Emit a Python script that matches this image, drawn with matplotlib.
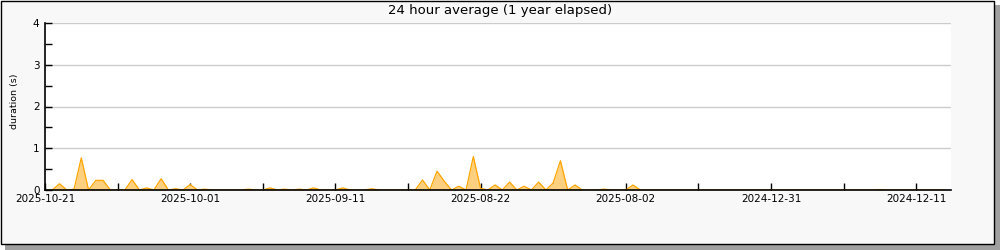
import numpy as np
import matplotlib
matplotlib.use("Agg")
import matplotlib.pyplot as plt
from matplotlib.patches import Rectangle
from matplotlib.ticker import MultipleLocator

# days ago (0 = newest, drawn at the left) and the 24h average duration in seconds
active_days = [2, 4, 5, 7, 8, 12, 14, 16, 18, 20, 22, 28, 31, 33, 35, 37, 41, 45,
               52, 54, 55, 57, 59, 60, 62, 64, 66, 68, 70, 71, 73, 77, 81, 115]
active_durations = [0.15, 0.02, 0.77, 0.23, 0.23, 0.25, 0.05, 0.27, 0.03, 0.13, 0.02,
                    0.02, 0.05, 0.02, 0.02, 0.05, 0.05, 0.03,
                    0.24, 0.45, 0.21, 0.09, 0.80, 0.04, 0.12, 0.19, 0.09, 0.19,
                    0.17, 0.70, 0.12, 0.02, 0.12, 0.01]
n_days = 125

tick_days = [0, 20, 40, 60, 80, 100, 120]
tick_labels = ["2025-10-21", "2025-10-01", "2025-09-11", "2025-08-22",
               "2025-08-02", "2024-12-31", "2024-12-11"]

days = np.arange(n_days)
durations = np.zeros(n_days)
durations[active_days] = active_durations

fig = plt.figure(figsize=(10, 2.5), dpi=100, facecolor="white")

# frame with drop shadow (behind the axes)
fig.patches.append(Rectangle((0.005, 0.0), 0.995, 0.98, transform=fig.transFigure,
                             facecolor="#a0a0a0", edgecolor="none", zorder=-2))
fig.patches.append(Rectangle((0.0005, 0.024), 0.9935, 0.974, transform=fig.transFigure,
                             facecolor="#f8f8f8", edgecolor="black", lw=1, zorder=-1))

ax = fig.add_axes([0.045, 0.24, 0.906, 0.668])
ax.set_facecolor("white")

ax.fill_between(days, durations, 0, color="#ffd080", lw=0, zorder=2)
ax.plot(days, durations, color="#ffa500", lw=0.9, zorder=2.2)

ax.set_xlim(0, 124.8)
ax.set_ylim(0, 4)

ax.set_xticks(tick_days)
ax.set_xticklabels(tick_labels)
ax.xaxis.set_minor_locator(MultipleLocator(10))
ax.set_yticks([0, 1, 2, 3, 4])
ax.yaxis.set_minor_locator(MultipleLocator(0.5))

ax.tick_params(axis="both", which="both", direction="in", length=5, width=1,
               colors="black", labelsize=7.5)
ax.tick_params(axis="x", pad=3)
ax.tick_params(axis="y", pad=4)

ax.grid(axis="y", which="major", color="#cccccc", lw=1)
ax.set_axisbelow(True)

for side in ["top", "right"]:
    ax.spines[side].set_visible(False)
for side in ["left", "bottom"]:
    ax.spines[side].set_linewidth(1.2)
    ax.spines[side].set_zorder(3)

ax.set_ylabel("duration (s)", fontsize=6.8)
ax.yaxis.set_label_coords(-0.029, 0.53)
fig.text(0.5, 0.958, "24 hour average (1 year elapsed)", ha="center", va="center",
         fontsize=9.5)

fig.savefig("out.png", dpi=100, facecolor=fig.get_facecolor())
